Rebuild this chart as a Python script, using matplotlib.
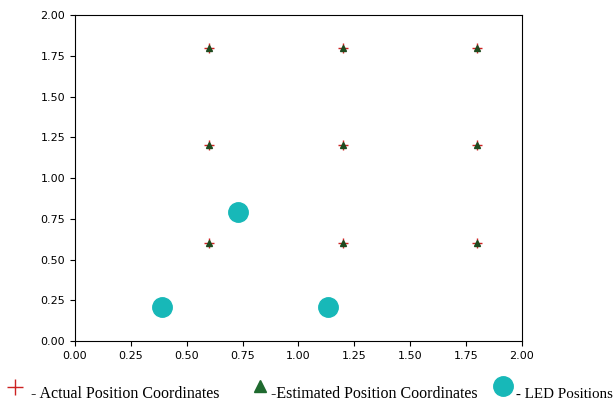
import matplotlib
matplotlib.use("Agg")
from matplotlib import pyplot as plt
from matplotlib.lines import Line2D

# grid of test positions
actual_x = [0.6, 0.6, 0.6, 1.2, 1.2, 1.2, 1.8, 1.8, 1.8]
actual_y = [0.6, 1.2, 1.8, 0.6, 1.2, 1.8, 0.6, 1.2, 1.8]
est_x = [0.6, 0.6, 0.6, 1.2, 1.2, 1.2, 1.8, 1.8, 1.8]
est_y = [0.6, 1.2, 1.8, 0.6, 1.2, 1.8, 0.6, 1.2, 1.8]
led_x = [0.39, 0.73, 1.13]
led_y = [0.21, 0.79, 0.21]
legend_labels = ["- Actual Position Coordinates", "-Estimated Position Coordinates", "- LED Positions"]

fig = plt.figure(figsize=(6.13, 4.07), dpi=100)
ax = fig.add_axes([0.1223, 0.162, 0.7292, 0.801])

ax.plot(actual_x, actual_y, '+', color='#cc2222', ms=7, mew=1.0, ls='none')
ax.plot(est_x, est_y, '^', color='#1f4a1f', ms=5, ls='none')
ax.plot(led_x, led_y, 'o', color='#17b8b8', ms=14, ls='none')

ax.set_xlim(0, 2)
ax.set_ylim(0, 2)
ticks = [0.0, 0.25, 0.5, 0.75, 1.0, 1.25, 1.5, 1.75, 2.0]
ax.set_xticks(ticks)
ax.set_yticks(ticks)
ax.set_xticklabels(["%.2f" % t for t in ticks])
ax.set_yticklabels(["%.2f" % t for t in ticks])
ax.tick_params(labelsize=8)

# legend drawn below the axes
serif = ['Liberation Serif', 'DejaVu Serif']
H = 407.0
W = 613.0
ly = 1 - 394 / H
fig.add_artist(Line2D([15 / W], [1 - 387 / H], marker='+', color='#cc2222', ms=11, mew=1.0,
                      transform=fig.transFigure))
fig.text(31 / W, ly, legend_labels[0], family=serif, fontsize=11.5, va='center')
fig.add_artist(Line2D([260 / W], [1 - 386 / H], marker='^', color='#1f6a2f', ms=8,
                      transform=fig.transFigure))
fig.text(271 / W, ly, legend_labels[1], family=serif, fontsize=11.5, va='center')
fig.add_artist(Line2D([503 / W], [1 - 386 / H], marker='o', color='#17b8b8', ms=14,
                      transform=fig.transFigure))
fig.text(516 / W, ly, legend_labels[2], family=serif, fontsize=10.8, va='center')

fig.savefig("out.png", dpi=100)
